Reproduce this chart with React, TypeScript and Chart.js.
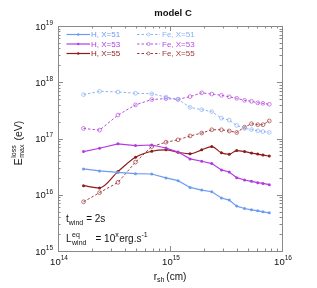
import React, { useEffect, useRef } from 'react';
import { Chart, registerables } from 'chart.js';
Chart.register(...registerables);

const rsh = [1.69e14, 2.35e14, 3.43e14, 4.92e14, 6.87e14, 9.21e14, 1.18e15, 1.51e15, 1.92e15, 2.36e15, 2.88e15, 3.38e15, 3.94e15, 4.63e15, 5.34e15, 6.07e15, 6.76e15, 7.70e15];
const hX51 = [2.88e16, 2.65e16, 2.49e16, 2.37e16, 2.34e16, 1.99e16, 1.78e16, 1.35e16, 1.21e16, 1.13e16, 8.73e15, 8.04e15, 6.28e15, 5.69e15, 5.40e15, 5.18e15, 4.97e15, 4.77e15];
const hX53 = [5.86e16, 6.71e16, 8.04e16, 7.50e16, 7.66e16, 6.77e16, 5.74e16, 4.34e16, 3.94e16, 3.58e16, 2.76e16, 2.54e16, 2.01e16, 1.83e16, 1.73e16, 1.64e16, 1.59e16, 1.51e16];
const hX55 = [1.45e16, 1.32e16, 2.58e16, 4.63e16, 5.93e16, 6.28e16, 5.69e16, 5.33e16, 6.28e16, 7.20e16, 5.56e16, 5.25e16, 6.11e16, 5.86e16, 5.51e16, 5.28e16, 5.07e16, 4.87e16];
const feX51 = [6.03e17, 6.90e17, 6.71e17, 6.37e17, 6.24e17, 5.46e17, 4.97e17, 3.58e17, 3.25e17, 3.01e17, 2.30e17, 2.12e17, 1.71e17, 1.51e17, 1.44e17, 1.37e17, 1.33e17, 1.28e17];
const feX53 = [1.51e17, 1.41e17, 2.61e17, 3.96e17, 4.93e17, 5.12e17, 4.97e17, 5.56e17, 6.49e17, 6.18e17, 5.86e17, 5.51e17, 5.18e17, 4.77e17, 4.58e17, 4.31e17, 4.22e17, 4.05e17];
const feX55 = [7.50e15, 1.09e16, 1.66e16, 3.80e16, 7.20e16, 8.59e16, 9.48e16, 1.11e17, 1.25e17, 1.43e17, 1.43e17, 1.36e17, 1.28e17, 1.59e17, 1.83e17, 1.76e17, 1.76e17, 2.05e17];

const seriesLabels = ['H, X=51', 'H, X=53', 'H, X=55', 'Fe, X=51', 'Fe, X=53', 'Fe, X=55'];
const seriesColors = ['#6d9bf1', '#b33be2', '#8e1b1b', '#8cb2f4', '#b84de0', '#a03a3a'];
const xTickExps = [14, 15, 16];
const yTickExps = [15, 16, 17, 18, 19];

const FONT = '"Liberation Sans", Arial, Helvetica, sans-serif';

type Run = { t: string; size: number; dy?: number; bold?: boolean; stack?: { t: string; dy: number }[]; gap?: number };

function runWidth(ctx: CanvasRenderingContext2D, r: Run) {
  if (r.stack) {
    let w = 0;
    for (const s of r.stack) {
      ctx.font = `${r.size}px ${FONT}`;
      w = Math.max(w, ctx.measureText(s.t).width);
    }
    return w + (r.gap || 0);
  }
  ctx.font = `${r.bold ? 'bold ' : ''}${r.size}px ${FONT}`;
  return ctx.measureText(r.t).width + (r.gap || 0);
}

function drawRuns(ctx: CanvasRenderingContext2D, runs: Run[], x: number, y: number, align: 'left' | 'center' | 'right', color: string) {
  let total = 0;
  for (const r of runs) total += runWidth(ctx, r);
  let cx = align === 'left' ? x : align === 'center' ? x - total / 2 : x - total;
  ctx.fillStyle = color;
  ctx.textAlign = 'left';
  ctx.textBaseline = 'middle';
  for (const r of runs) {
    const w = runWidth(ctx, r);
    if (r.stack) {
      ctx.font = `${r.size}px ${FONT}`;
      for (const s of r.stack) ctx.fillText(s.t, cx, y + s.dy);
    } else {
      ctx.font = `${r.bold ? 'bold ' : ''}${r.size}px ${FONT}`;
      ctx.fillText(r.t, cx, y + (r.dy || 0));
    }
    cx += w;
  }
}

const deco = {
  id: 'deco',
  afterDraw(chart: any) {
    const { ctx, chartArea: a, scales } = chart;
    const xs = scales.x, ys = scales.y;
    ctx.save();
    ctx.strokeStyle = '#8a8a8a';
    ctx.lineWidth = 1;
    ctx.strokeRect(Math.round(a.left) + 0.5, Math.round(a.top) + 0.5, Math.round(a.right - a.left), Math.round(a.bottom - a.top));
    ctx.beginPath();
    for (let d = 14; d < 16; d++) {
      for (let m = 1; m <= 9; m++) {
        const v = m * Math.pow(10, d);
        const p = Math.round(xs.getPixelForValue(v)) + 0.5;
        const len = m === 1 ? 5 : 2.5;
        ctx.moveTo(p, a.bottom); ctx.lineTo(p, a.bottom - len);
        ctx.moveTo(p, a.top); ctx.lineTo(p, a.top + len);
      }
    }
    for (let d = 15; d < 19; d++) {
      for (let m = 1; m <= 9; m++) {
        const v = m * Math.pow(10, d);
        const p = Math.round(ys.getPixelForValue(v)) + 0.5;
        const len = m === 1 ? 5 : 2.5;
        ctx.moveTo(a.left, p); ctx.lineTo(a.left + len, p);
        ctx.moveTo(a.right, p); ctx.lineTo(a.right - len, p);
      }
    }
    ctx.stroke();

    // tick labels
    for (const e of yTickExps) {
      const p = ys.getPixelForValue(Math.pow(10, e));
      drawRuns(ctx, [{ t: '10', size: 9.5 }, { t: String(e), size: 6.5, dy: -4 }], a.left - 5, p + 1, 'right', '#111');
    }
    for (const e of xTickExps) {
      const p = xs.getPixelForValue(Math.pow(10, e));
      drawRuns(ctx, [{ t: '10', size: 9.5 }, { t: String(e), size: 6.5, dy: -4 }], p + 1, a.bottom + 11, 'center', '#111');
    }

    // title
    drawRuns(ctx, [{ t: 'model C', size: 9.5, bold: true }], (a.left + a.right) / 2 + 3, 13, 'center', '#111');

    // x axis title
    drawRuns(ctx, [{ t: 'r', size: 10 }, { t: 'sh', size: 7, dy: 3.5, gap: 2 }, { t: '(cm)', size: 10 }], (a.left + a.right) / 2, 277, 'center', '#111');

    // y axis title (rotated)
    ctx.save();
    ctx.translate(19, 143);
    ctx.rotate(-Math.PI / 2);
    drawRuns(ctx, [{ t: 'E', size: 10.5, gap: 0.5 }, { t: '', size: 7, stack: [{ t: 'loss', dy: -4.5 }, { t: 'max', dy: 3.5 }], gap: 4 }, { t: '(eV)', size: 10.5 }], 0, 0, 'center', '#111');
    ctx.restore();

    // annotations
    const ax = a.left + 8;
    drawRuns(ctx, [{ t: 't', size: 10 }, { t: 'wind', size: 7, dy: 3.5, gap: 3 }, { t: '= 2s', size: 10 }], ax, 219.5, 'left', '#111');
    drawRuns(ctx, [{ t: 'L', size: 10, gap: 0.5 }, { t: '', size: 7, stack: [{ t: 'eq', dy: -4.5 }, { t: 'wind', dy: 3.5 }], gap: 9 }, { t: '= 10', size: 10 }, { t: 'x', size: 7, dy: -4.5, gap: 0.5 }, { t: 'erg.s', size: 10 }, { t: '-1', size: 7, dy: -4.5 }], ax, 239.5, 'left', '#111');

    // legend
    const rowsY = [34.5, 44, 53.5];
    const cols = [{ x0: 66.5, x1: 90, tx: 91 }, { x0: 137, x1: 160, tx: 162 }];
    chart.data.datasets.forEach((ds: any, i: number) => {
      const col = cols[Math.floor(i / 3)];
      const yy = rowsY[i % 3];
      ctx.save();
      ctx.strokeStyle = ds.borderColor;
      ctx.lineWidth = ds.borderWidth;
      ctx.setLineDash(ds.borderDash || []);
      ctx.beginPath();
      ctx.moveTo(col.x0, yy); ctx.lineTo(col.x1, yy);
      ctx.stroke();
      ctx.setLineDash([]);
      const mx = (col.x0 + col.x1) / 2;
      ctx.beginPath();
      ctx.arc(mx, yy, ds.pointRadius * 0.8, 0, Math.PI * 2);
      if (i < 3) { ctx.fillStyle = ds.borderColor; ctx.fill(); }
      else { ctx.fillStyle = '#fff'; ctx.fill(); ctx.lineWidth = 0.7; ctx.stroke(); }
      ctx.restore();
      drawRuns(ctx, [{ t: ds.label, size: 8 }], col.tx, yy + 0.5, 'left', ds.borderColor);
    });
    ctx.restore();
  },
};

export default function App() {
  const ref = useRef<HTMLCanvasElement>(null);
  useEffect(() => {
    const seriesData = [hX51, hX53, hX55, feX51, feX53, feX55];
    const datasets = seriesData.map((vals, i) => {
      const isFe = i >= 3;
      return {
        label: seriesLabels[i],
        data: rsh.map((x, k) => ({ x, y: vals[k] })),
        borderColor: seriesColors[i],
        backgroundColor: isFe ? '#ffffff' : seriesColors[i],
        pointBackgroundColor: isFe ? 'rgba(255,255,255,0)' : seriesColors[i],
        pointBorderColor: seriesColors[i],
        pointBorderWidth: isFe ? 0.7 : 0,
        borderWidth: isFe ? 1 : 1.2,
        borderDash: isFe ? [2.5, 2] : [],
        pointRadius: isFe ? 1.9 : 1.5,
        cubicInterpolationMode: i === 2 ? 'monotone' : 'default',
        tension: 0,
        fill: false,
      };
    });
    const chart = new Chart(ref.current as HTMLCanvasElement, {
      type: 'line',
      data: { datasets } as any,
      options: {
        animation: false,
        responsive: true,
        maintainAspectRatio: false,
        parsing: true,
        layout: { padding: { left: 58, right: 35, top: 26, bottom: 37 } },
        plugins: { legend: { display: false }, tooltip: { enabled: false }, title: { display: false } },
        scales: {
          x: { type: 'logarithmic', min: 1e14, max: 1e16, display: false },
          y: { type: 'logarithmic', min: 1e15, max: 1e19, display: false },
        },
      } as any,
      plugins: [deco],
    });
    return () => chart.destroy();
  }, []);
  return (
    <div style={{ position: 'fixed', left: 0, top: 0, width: 317, height: 288, background: '#fff' }}>
      <canvas ref={ref} />
    </div>
  );
}
